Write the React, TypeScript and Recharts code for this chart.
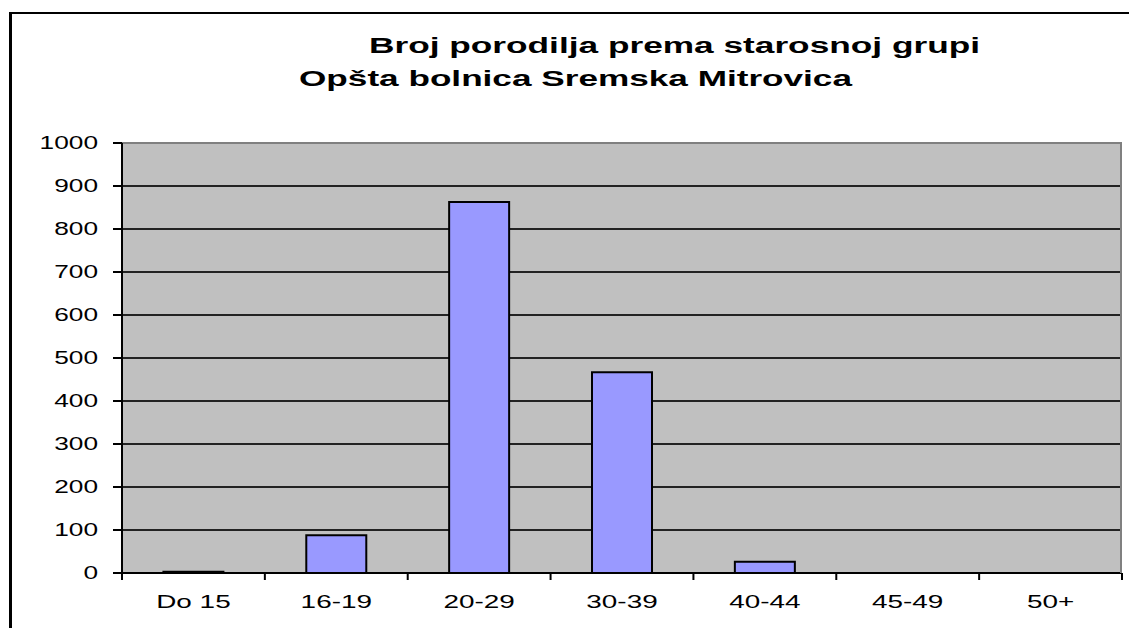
import React from "react";
import { Bar, BarChart, CartesianGrid, ReferenceLine, XAxis, YAxis } from "recharts";

const categories = ["Do 15", "16-19", "20-29", "30-39", "40-44", "45-49", "50+"];
const counts = [3, 88, 863, 467, 26, 0, 0];
const yTicks = [0, 100, 200, 300, 400, 500, 600, 700, 800, 900, 1000];
const titleLines = ["Broj porodilja prema starosnoj grupi", "Opšta bolnica Sremska Mitrovica"];

const data = categories.map((name, i) => ({ name, value: counts[i] }));

const W = 1129;
const H = 628;
const PLOT_LEFT = 122;
const PLOT_RIGHT = 1122;
const PLOT_TOP = 143;
const PLOT_BOTTOM = 573;
const FONT = "'Liberation Sans', Arial, sans-serif";

function YTick(props: any) {
  const { x, y, payload } = props;
  return (
    <text
      transform={`translate(${x},${y}) scale(1.5,1)`}
      textAnchor="end"
      dominantBaseline="central"
      fontFamily={FONT}
      fontSize={17.5}
      fill="#000"
    >
      {payload.value}
    </text>
  );
}

function XTick(props: any) {
  const { x, y, payload, index } = props;
  const half = (PLOT_RIGHT - PLOT_LEFT) / categories.length / 2;
  return (
    <g>
      <line x1={x - half} x2={x - half} y1={y} y2={y + 7} stroke="#000" strokeWidth={2} />
      {index === categories.length - 1 && (
        <line x1={x + half} x2={x + half} y1={y} y2={y + 7} stroke="#000" strokeWidth={2} />
      )}
      <text
        transform={`translate(${x},${y + 35}) scale(1.55,1)`}
        textAnchor="middle"
        fontFamily={FONT}
        fontSize={18}
        fill="#000"
      >
        {payload.value}
      </text>
    </g>
  );
}

export default function App() {
  return (
    <div style={{ position: "absolute", left: 0, top: 0, width: W, height: H, background: "#fff", overflow: "hidden" }}>
      <BarChart
        width={W}
        height={H}
        data={data}
        margin={{ top: PLOT_TOP, right: W - PLOT_RIGHT, bottom: 0, left: 0 }}
        barCategoryGap="29%"
      >
        <CartesianGrid vertical={false} fill="#C0C0C0" fillOpacity={1} stroke="#222" strokeWidth={2} />
        <XAxis
          dataKey="name"
          height={H - PLOT_BOTTOM}
          interval={0}
          tickSize={0}
          tickMargin={0}
          tickLine={false}
          axisLine={{ stroke: "#000", strokeWidth: 2 }}
          tick={<XTick />}
        />
        <YAxis
          width={PLOT_LEFT}
          domain={[0, 1000]}
          ticks={yTicks}
          interval={0}
          tickSize={9}
          tickMargin={15}
          tickLine={{ stroke: "#000", strokeWidth: 2 }}
          axisLine={{ stroke: "#000", strokeWidth: 2 }}
          tick={<YTick />}
        />
        <ReferenceLine y={1000} stroke="#808080" strokeWidth={2} />
        <Bar dataKey="value" fill="#9999FF" stroke="#000" strokeWidth={2} isAnimationActive={false} />
      </BarChart>
      <svg width={W} height={H} style={{ position: "absolute", left: 0, top: 0, pointerEvents: "none" }}>
        <line x1={10.5} x2={10.5} y1={12} y2={H} stroke="#000" strokeWidth={3} />
        <line x1={9} x2={W} y1={13} y2={13} stroke="#000" strokeWidth={2} />
        <line x1={PLOT_RIGHT - 1} x2={PLOT_RIGHT - 1} y1={PLOT_TOP} y2={PLOT_BOTTOM} stroke="#808080" strokeWidth={2} />
        <text
          x={369}
          y={53}
          textLength={611}
          lengthAdjust="spacingAndGlyphs"
          fontFamily={FONT}
          fontWeight="bold"
          fontSize={22}
          fill="#000"
        >
          {titleLines[0]}
        </text>
        <text
          x={299}
          y={86}
          textLength={553}
          lengthAdjust="spacingAndGlyphs"
          fontFamily={FONT}
          fontWeight="bold"
          fontSize={22}
          fill="#000"
        >
          {titleLines[1]}
        </text>
      </svg>
    </div>
  );
}
